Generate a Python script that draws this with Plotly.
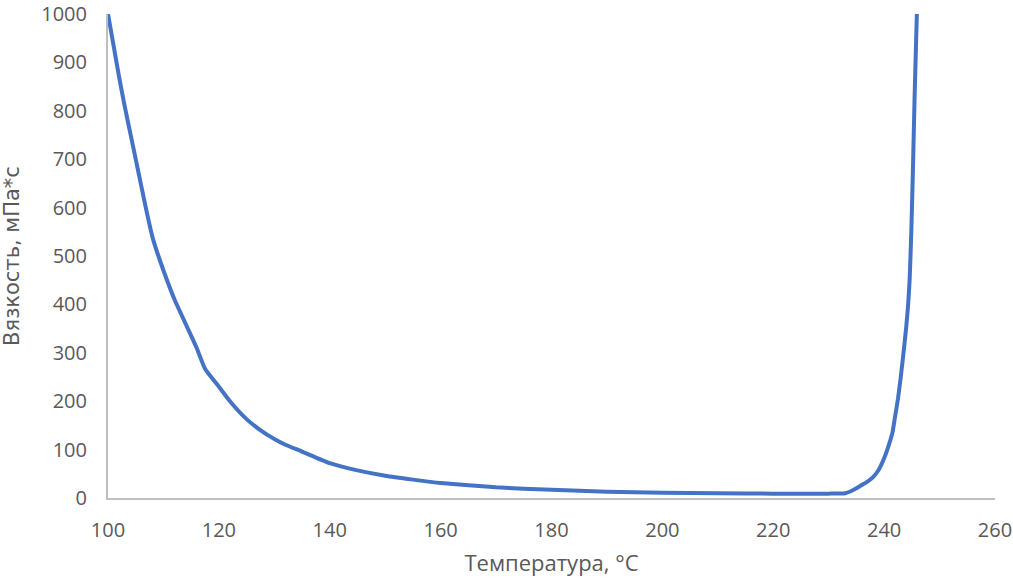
import plotly.graph_objects as go

temperature = [100, 101, 102, 103, 104, 105, 106, 107, 108, 108.8, 110, 112, 114, 116, 117.5,
               120, 122, 125, 128, 130, 132, 135, 140, 145, 150, 155, 160, 170, 180, 190, 200,
               210, 220, 230, 233, 234, 235, 236, 237, 238, 239, 240, 241, 241.5, 242, 242.5,
               243, 243.5, 244, 244.3, 244.6, 244.9, 245.2, 245.5, 246, 246.5]
viscosity = [1000, 935, 870, 810, 755, 700, 645, 590, 540, 510, 470, 410, 360, 310, 267,
             230, 200, 163, 136, 122, 110, 96, 72, 57, 46, 38, 31, 22, 17, 13, 11,
             10, 9, 9, 10, 14, 20, 27, 34, 43, 58, 82, 115, 135, 170, 205,
             250, 300, 355, 395, 450, 550, 680, 830, 1040, 1250]

x_ticks = [100, 120, 140, 160, 180, 200, 220, 240, 260]
y_ticks = [0, 100, 200, 300, 400, 500, 600, 700, 800, 900, 1000]

fig = go.Figure()
fig.add_trace(go.Scatter(
    x=temperature, y=viscosity, mode="lines",
    line=dict(color="#4472C4", width=4, shape="spline", smoothing=0.5),
    showlegend=False, cliponaxis=True,
))

tick_font = dict(family="Open Sans", size=20, color="#595959")
fig.update_layout(
    width=1013, height=582,
    margin=dict(l=108, r=18, t=14, b=84),
    paper_bgcolor="white", plot_bgcolor="white",
    xaxis=dict(
        range=[100, 260], tickvals=x_ticks, ticktext=[str(v) for v in x_ticks],
        showgrid=False, zeroline=False, showline=True, linecolor="#BFBFBF", linewidth=2,
        ticks="", tickfont=tick_font, ticklabelstandoff=13, automargin=False,
        ticklabeloverflow="allow",
        title=dict(text="Температура, °C", font=dict(family="Open Sans", size=22, color="#595959"), standoff=14),
    ),
    yaxis=dict(
        range=[0, 1000], tickvals=y_ticks, ticktext=[str(v) for v in y_ticks],
        showgrid=False, zeroline=False, showline=True, linecolor="#BFBFBF", linewidth=2,
        ticks="", tickfont=tick_font, ticklabelstandoff=15, automargin=False,
        ticklabeloverflow="allow",
        title=dict(text="Вязкость, мПа*с", font=dict(family="DejaVu Sans", size=21, color="#595959"), standoff=27),
    ),
)

fig.write_html("out.html")
